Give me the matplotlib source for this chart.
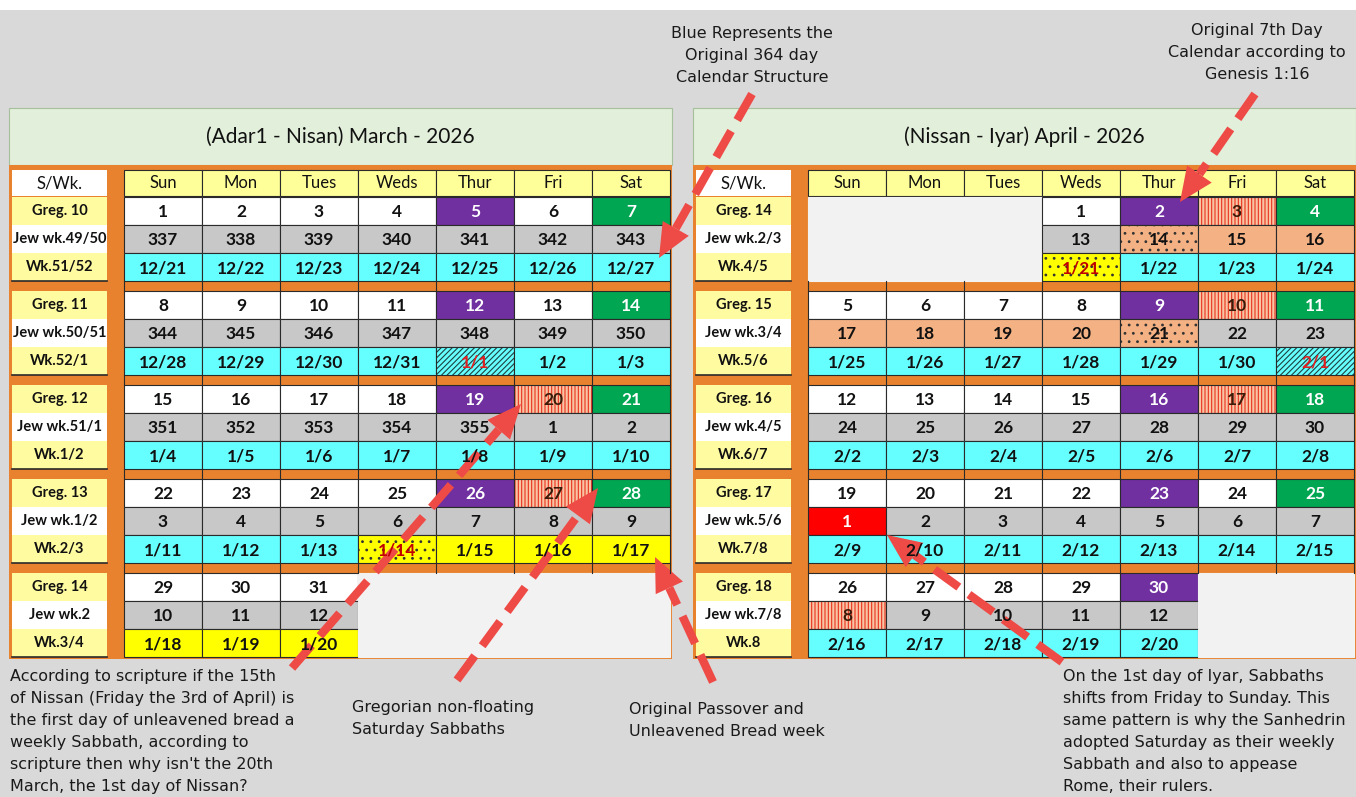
import numpy as np
import matplotlib.pyplot as plt
from matplotlib.patches import Rectangle, Polygon

# ---- data ---------------------------------------------------------------
days = ["Sun", "Mon", "Tues", "Weds", "Thur", "Fri", "Sat"]

march_title = "(Adar1 - Nisan) March - 2026"
march_labels = [("Greg. 10", "Jew wk.49/50", "Wk.51/52"),
                ("Greg. 11", "Jew wk.50/51", "Wk.52/1"),
                ("Greg. 12", "Jew wk.51/1", "Wk.1/2"),
                ("Greg. 13", "Jew wk.1/2", "Wk.2/3"),
                ("Greg. 14", "Jew wk.2", "Wk.3/4")]
march_greg = [[1, 2, 3, 4, 5, 6, 7],
              [8, 9, 10, 11, 12, 13, 14],
              [15, 16, 17, 18, 19, 20, 21],
              [22, 23, 24, 25, 26, 27, 28],
              [29, 30, 31, None, None, None, None]]
march_jew = [[337, 338, 339, 340, 341, 342, 343],
             [344, 345, 346, 347, 348, 349, 350],
             [351, 352, 353, 354, 355, 1, 2],
             [3, 4, 5, 6, 7, 8, 9],
             [10, 11, 12, None, None, None, None]]
march_wk = [["12/21", "12/22", "12/23", "12/24", "12/25", "12/26", "12/27"],
            ["12/28", "12/29", "12/30", "12/31", "1/1", "1/2", "1/3"],
            ["1/4", "1/5", "1/6", "1/7", "1/8", "1/9", "1/10"],
            ["1/11", "1/12", "1/13", "1/14", "1/15", "1/16", "1/17"],
            ["1/18", "1/19", "1/20", None, None, None, None]]

april_title = "(Nissan - Iyar) April - 2026"
april_labels = [("Greg. 14", "Jew wk.2/3", "Wk.4/5"),
                ("Greg. 15", "Jew wk.3/4", "Wk.5/6"),
                ("Greg. 16", "Jew wk.4/5", "Wk.6/7"),
                ("Greg. 17", "Jew wk.5/6", "Wk.7/8"),
                ("Greg. 18", "Jew wk.7/8", "Wk.8")]
april_greg = [[None, None, None, 1, 2, 3, 4],
              [5, 6, 7, 8, 9, 10, 11],
              [12, 13, 14, 15, 16, 17, 18],
              [19, 20, 21, 22, 23, 24, 25],
              [26, 27, 28, 29, 30, None, None]]
april_jew = [[None, None, None, 13, 14, 15, 16],
             [17, 18, 19, 20, 21, 22, 23],
             [24, 25, 26, 27, 28, 29, 30],
             [1, 2, 3, 4, 5, 6, 7],
             [8, 9, 10, 11, 12, None, None]]
april_wk = [[None, None, None, "1/21", "1/22", "1/23", "1/24"],
            ["1/25", "1/26", "1/27", "1/28", "1/29", "1/30", "2/1"],
            ["2/2", "2/3", "2/4", "2/5", "2/6", "2/7", "2/8"],
            ["2/9", "2/10", "2/11", "2/12", "2/13", "2/14", "2/15"],
            ["2/16", "2/17", "2/18", "2/19", "2/20", None, None]]

# ---- cell styles (one code per cell) -----------------------------------
# w white, p purple, g green, s red stripes, k gray, c cyan, Y yellow,
# d dotted yellow, h hatched cyan, o peach, O dotted peach, r red, . empty
march_style = [("wwwwpwg", "kkkkkkk", "ccccccc"),
               ("wwwwpwg", "kkkkkkk", "cccchcc"),
               ("wwwwpsg", "kkkkkkk", "ccccccc"),
               ("wwwwpsg", "kkkkkkk", "cccdYYY"),
               ("www....", "kkk....", "YYY....")]
april_style = [("...wpsg", "...kOoo", "...dccc"),
               ("wwwwpsg", "ooooOkk", "cccccch"),
               ("wwwwpsg", "kkkkkkk", "ccccccc"),
               ("wwwwpwg", "rkkkkkk", "ccccccc"),
               ("wwwwp..", "skkkk..", "ccccc..")]

STYLES = {
    "w": dict(fc="#ffffff", tc="#111111"),
    "p": dict(fc="#7030a0", tc="#ffffff"),
    "g": dict(fc="#00a651", tc="#ffffff"),
    "s": dict(fc="#f8c4a4", tc="#3a1a08", hatch="|||||", hc="#e8321e"),
    "k": dict(fc="#c8c8c8", tc="#111111"),
    "c": dict(fc="#66ffff", tc="#111111"),
    "Y": dict(fc="#ffff00", tc="#111111"),
    "d": dict(fc="#ffff00", tc="#c00000", hatch="..", hc="#333333"),
    "h": dict(fc="#66ffff", tc="#e02020", hatch="//////", hc="#1e4040"),
    "o": dict(fc="#f4b183", tc="#111111"),
    "O": dict(fc="#f4b183", tc="#111111", hatch="..", hc="#333333"),
    "r": dict(fc="#ff0000", tc="#ffffff"),
    ".": dict(fc="#f2f2f2", tc="#111111"),
}

ORANGE = "#e8822f"
LABEL_YELLOW = "#fffba0"
HEAD_YELLOW = "#ffff99"
BORDER = "#2a2a2a"
TFONT = ["Lato", "DejaVu Sans"]
NFONT = ["DejaVu Sans"]

plt.rcParams["hatch.linewidth"] = 0.8

fig = plt.figure(figsize=(13.56, 7.97), dpi=100, facecolor="#d9d9d9")
ax = fig.add_axes([0, 0, 1, 1])
ax.set_xlim(0, 1356)
ax.set_ylim(797, 0)
ax.axis("off")
ax.add_patch(Rectangle((0, 0), 1356, 10, fc="white", ec="none"))

CW, RH, GAP = 78.0, 28.0, 10.0
TOP0 = 197.0


def draw_panel(px0, px1, title, labels, greg, jew, wk, style):
    lab_x0, lab_w = px0 + 3, 95
    day_x0 = lab_x0 + lab_w + 17
    # title band
    ax.add_patch(Rectangle((px0, 108), px1 - px0, 57, fc="#e2efda",
                           ec="#a6bf9c", lw=0.8))
    ax.text((px0 + px1) / 2, 137, title, ha="center", va="center",
            fontsize=15, family=TFONT, color="#111111")
    # orange frame
    ax.add_patch(Rectangle((px0, 165), px1 - px0, 494, fc=ORANGE, ec="none"))
    # header row
    ax.add_patch(Rectangle((lab_x0, 170), lab_w, 26, fc="white", ec="none"))
    ax.text(lab_x0 + lab_w / 2, 183, "S/Wk.", ha="center", va="center",
            fontsize=12, family=TFONT, color="#111111")
    for j, d in enumerate(days):
        ax.add_patch(Rectangle((day_x0 + j * CW, 170), CW, 26, fc=HEAD_YELLOW,
                               ec=BORDER, lw=0.8))
        ax.text(day_x0 + j * CW + CW / 2, 183, d, ha="center", va="center",
                fontsize=12, family=TFONT, color="#111111")

    for k in range(len(greg)):
        top = TOP0 + k * (3 * RH + GAP)
        # gaps: column dividers continue through the orange band
        if k > 0:
            for j in range(8):
                ax.plot([day_x0 + j * CW] * 2, [top - GAP, top], color=BORDER,
                        lw=0.8)
        rows = (greg[k], jew[k], wk[k])
        for r in range(3):
            y = top + r * RH
            fc = "white" if r == 1 else LABEL_YELLOW
            ax.add_patch(Rectangle((lab_x0, y), lab_w, RH, fc=fc, ec="none"))
            ax.text(lab_x0 + lab_w / 2, y + RH / 2, labels[k][r], ha="center",
                    va="center", fontsize=10.5, family=TFONT, weight="bold",
                    color="#111111")
            for j in range(7):
                st = STYLES[style[k][r][j]]
                x = day_x0 + j * CW
                val = rows[r][j]
                if val is None:
                    ax.add_patch(Rectangle((x, y), CW, RH, fc=st["fc"],
                                           ec=st["fc"], lw=0.8))
                    continue
                ax.add_patch(Rectangle((x, y), CW, RH, fc=st["fc"], ec="none"))
                if "hatch" in st:
                    ax.add_patch(Rectangle((x, y), CW, RH, fill=False,
                                           hatch=st["hatch"], ec=st["hc"],
                                           lw=0))
                ax.add_patch(Rectangle((x, y), CW, RH, fill=False, ec=BORDER,
                                       lw=0.8))
                ax.text(x + CW / 2, y + RH / 2 + 1, str(val), ha="center",
                        va="center", fontsize=12.5, family=TFONT, weight="bold",
                        color=st["tc"])
        ax.plot([lab_x0, lab_x0 + lab_w], [top + 3 * RH] * 2, color=BORDER,
                lw=1.2)


draw_panel(9, 672, march_title, march_labels, march_greg, march_jew,
           march_wk, march_style)
draw_panel(693, 1356, april_title, april_labels, april_greg, april_jew,
           april_wk, april_style)

# ---- callouts -----------------------------------------------------------
notes = [
    (752, 26, "center", "Blue Represents the\nOriginal 364 day\nCalendar Structure"),
    (1257, 23, "center", "Original 7th Day\nCalendar according to\nGenesis 1:16"),
    (10, 669, "left", "According to scripture if the 15th\nof Nissan (Friday the 3rd of April) is\n"
     "the first day of unleavened bread a\nweekly Sabbath, according to\n"
     "scripture then why isn't the 20th\nMarch, the 1st day of Nissan?"),
    (352, 700, "left", "Gregorian non-floating\nSaturday Sabbaths"),
    (629, 702, "left", "Original Passover and\nUnleavened Bread week"),
    (1063, 669, "left", "On the 1st day of Iyar, Sabbaths\nshifts from Friday to Sunday. This\n"
     "same pattern is why the Sanhedrin\nadopted Saturday as their weekly\n"
     "Sabbath and also to appease\nRome, their rulers."),
]
for x, y, ha, s in notes:
    ax.text(x, y, s, ha=ha, va="top", fontsize=11.5, family=NFONT,
            color="#1a1a1a", linespacing=1.58, multialignment=ha)

ARROW = "#ee4a46"
arrows = [((752, 94), (659, 258)),
          ((1255, 94), (1180, 202)),
          ((292, 668), (521, 404)),
          ((457, 680), (598, 488)),
          ((713, 682), (655, 557)),
          ((1062, 662), (887, 535))]
for (x0, y0), (x1, y1) in arrows:
    u = np.array([x1 - x0, y1 - y0], float)
    u /= np.hypot(*u)
    n = np.array([-u[1], u[0]])
    tip = np.array([x1, y1], float)
    base = tip - 34 * u
    ax.plot([x0, base[0]], [y0, base[1]], color=ARROW, lw=6,
            dashes=(3.6, 1.5), solid_capstyle="butt", dash_capstyle="butt")
    ax.add_patch(Polygon([tip, base + 15 * n, base - 15 * n], closed=True,
                         fc=ARROW, ec="none"))

fig.savefig("out.png", dpi=100, facecolor=fig.get_facecolor())
